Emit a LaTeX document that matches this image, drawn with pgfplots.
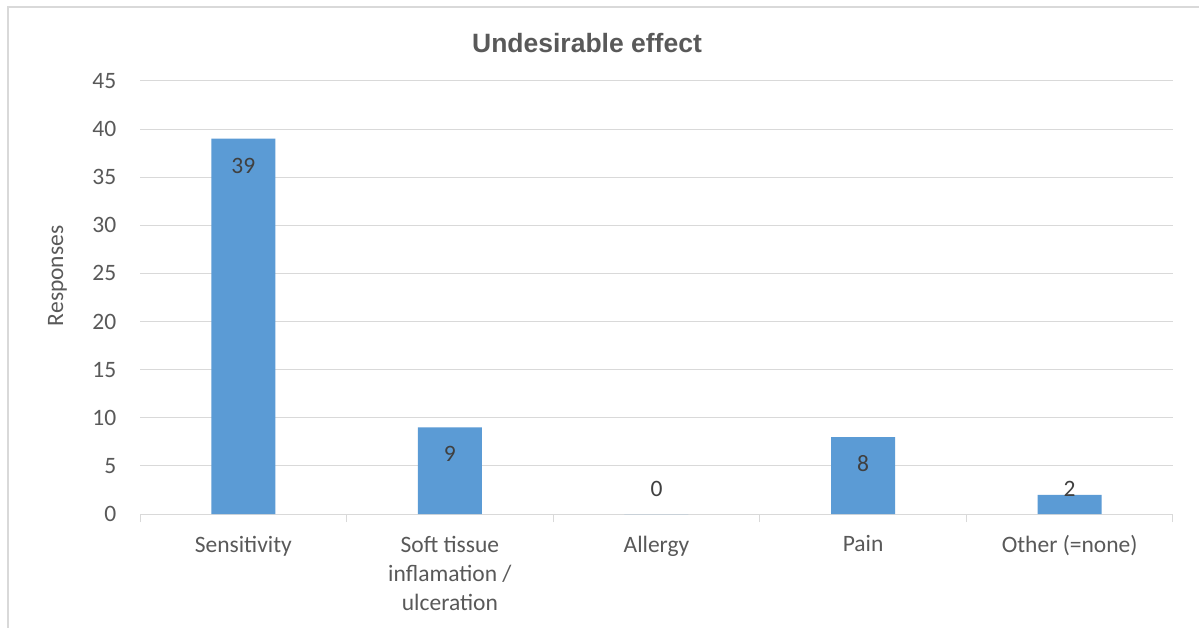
\documentclass[border=0pt]{standalone}
\usepackage{pgfplots}
\pgfplotsset{compat=1.18}
\usepackage{fontspec}
\setmainfont{Carlito}
\newfontfamily\titlefont{Liberation Sans}
\definecolor{barblue}{HTML}{5B9BD5}
\definecolor{gridgray}{HTML}{D9D9D9}
\definecolor{txtgray}{HTML}{595959}
\definecolor{lblgray}{HTML}{404040}

\begin{document}
\begin{tikzpicture}
\useasboundingbox (0pt,0pt) rectangle (1199pt,627pt);
\fill[white] (0pt,0pt) rectangle (1199pt,627pt);
% chart frame (cut off at right and bottom)
\draw[gridgray, line width=1.2pt] (8pt,-10pt) -- (8pt,620pt) -- (1210pt,620pt);
\node[text=txtgray, font=\titlefont\bfseries\fontsize{26.5}{30}\selectfont] at (587pt,584pt) {Undesirable effect};

\begin{axis}[
    at={(140pt,113pt)}, anchor=south west,
    scale only axis,
    width=1033pt, height=433pt,
    xmin=-0.5, xmax=4.5,
    ymin=0, ymax=45,
    ytick={0,5,...,45},
    xtick={0,1,2,3,4},
    xticklabels={Sensitivity, {Soft tissue\\inflamation /\\ulceration}, Allergy, Pain, Other (=none)},
    minor xtick={-0.5,0.5,1.5,2.5,3.5,4.5},
    xtick pos=bottom,
    tick align=outside,
    major x tick style={draw=none},
    minor x tick style={draw=gridgray, line width=1pt},
    minor tick length=8pt,
    ytick style={draw=none},
    axis line style={draw=none},
    ymajorgrids=true,
    grid style={gridgray, line width=1pt},
    /pgf/number format/assume math mode=true,
    tick label style={font=\fontsize{23.5}{29}\selectfont, text=txtgray},
    xticklabel style={align=center, yshift=-14pt},
    yticklabel style={xshift=-16pt},
    ylabel={Responses},
    ylabel style={font=\fontsize{23.5}{29}\selectfont, text=txtgray, at={(axis description cs:-0.08,0.55)}, anchor=center},
    ybar, bar width=64pt,
    nodes near coords,
    visualization depends on={9.6222*(max(y-2.8,2.6)-y) \as \lblshift},
    nodes near coords style={font=\fontsize{23.5}{29}\selectfont, text=lblgray, anchor=center, yshift=\lblshift pt},
]
\addplot[fill=barblue, draw=none] coordinates {(0,39) (1,9) (2,0) (3,8) (4,2)};
\end{axis}
\end{tikzpicture}
\end{document}
